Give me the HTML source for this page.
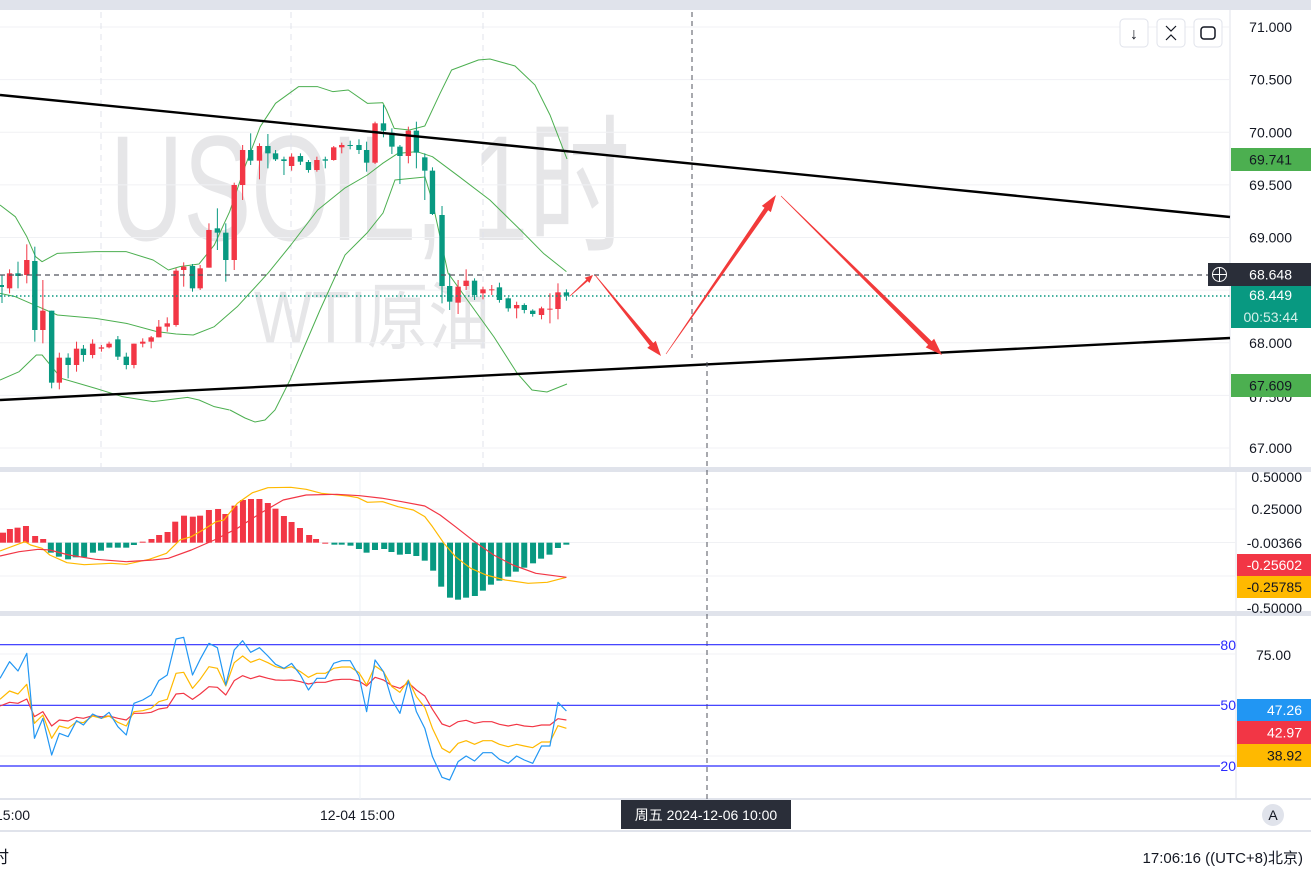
<!DOCTYPE html>
<html><head><meta charset="utf-8">
<style>
html,body{margin:0;padding:0;background:#fff;}
body{width:1311px;height:880px;overflow:hidden;position:relative;font-family:"Liberation Sans","Noto Sans CJK SC",sans-serif;}
svg text{font-family:"Liberation Sans","Noto Sans CJK SC",sans-serif;}
</style></head><body>
<svg id="s" width="1311" height="880" xmlns="http://www.w3.org/2000/svg">
<rect width="1311" height="880" fill="#fff"/>
<rect x="0" y="0" width="1311" height="10" fill="#e0e3eb"/>
<rect x="0" y="467" width="1311" height="5" fill="#e0e3eb"/>
<rect x="0" y="611" width="1311" height="5" fill="#e0e3eb"/>
<line x1="0" y1="799" x2="1311" y2="799" stroke="#e0e3eb" stroke-width="2"/>
<line x1="0" y1="831" x2="1311" y2="831" stroke="#e0e3eb" stroke-width="2"/>
<line x1="1230" y1="10" x2="1230" y2="467" stroke="#e0e3eb"/>
<line x1="1236" y1="472" x2="1236" y2="799" stroke="#e0e3eb"/>
<g id="grid"></g>
<text x="110" y="240" font-size="150" fill="#e6e6e8" textLength="520" lengthAdjust="spacingAndGlyphs">USOIL, 1时</text>
<text x="254" y="343" font-size="74" fill="#e6e6e8" textLength="236" lengthAdjust="spacingAndGlyphs">WTI原油</text>
<g id="main"></g>
</svg>
<script>
const S=document.getElementById('s');
const NS='http://www.w3.org/2000/svg';
function el(t,a,p){const e=document.createElementNS(NS,t);for(const k in a)e.setAttribute(k,a[k]);(p||S).appendChild(e);return e;}
const kx=1/2.613;
function Z(zx,zy,oy){return [zx*kx, oy+zy/3];}
function poly(pts,oy,col,w,extra){el('polyline',Object.assign({points:pts.map(p=>Z(p[0],p[1],oy).join(',')).join(' '),fill:'none',stroke:col,'stroke-width':w||1.2,'stroke-linejoin':'round'},extra||{}));}
const py=p=>27+(71-p)*105.25;
[71,70.5,70,69.5,69,68.5,68,67.5,67].forEach(p=>el('line',{x1:0,x2:1230,y1:py(p),y2:py(p),stroke:'#f0f1f4'}));
[101,291,483].forEach(x=>el('line',{x1:x,x2:x,y1:12,y2:467,stroke:'#e0e3eb','stroke-dasharray':'6,5'}));
[360].forEach(x=>{el('line',{x1:x,x2:x,y1:472,y2:611,stroke:'#eef0f4'});el('line',{x1:x,x2:x,y1:616,y2:799,stroke:'#eef0f4'});});
[509,542.5,576].forEach(y=>el('line',{x1:0,x2:1236,y1:y,y2:y,stroke:'#f0f1f4'}));
[654,756].forEach(y=>el('line',{x1:0,x2:1236,y1:y,y2:y,stroke:'#f0f1f4'}));
function rpoly(pts,col,w,extra){el('polyline',Object.assign({points:pts.map(p=>p.join(',')).join(' '),fill:'none',stroke:col,'stroke-width':w||1},extra||{}));}
poly([[0,435],[40,470],[70,530],[93,590],[110,605],[150,580],[250,575],[330,575],[400,600],[440,630],[470,620],[520,612],[560,555],[600,455],[640,320],[680,200],[720,130],[780,80],[830,80],[870,95],[910,90],[960,130],[1000,128],[1010,150],[1030,205],[1070,210],[1110,198],[1150,100],[1180,30],[1250,0]],60,'#4caf50',1);
rpoly([[478,60],[490,59],[515,66],[535,85],[550,115],[567,159]],'#4caf50',1);
poly([[0,700],[40,710],[100,740],[150,765],[250,775],[330,790],[410,815],[460,822],[505,825],[560,800],[620,740],[700,640],[760,555],[830,450],[900,385],[960,345],[1000,310],[1040,280],[1090,275],[1130,290],[1200,350],[1280,420],[1360,510],[1420,580],[1480,635]],60,'#4caf50',1);
poly([[0,960],[50,935],[95,885],[110,885],[160,955],[250,985],[320,1010],[400,1025],[490,1012],[520,1020],[560,1040],[600,1050]],60,'#4caf50',1);
rpoly([[230,410],[245,418],[255,422],[265,420],[275,410],[290,380],[320,310],[345,255],[367,233],[383,213],[395,180],[425,177],[432,200],[448,273],[494,337],[517,373],[532,390],[547,392],[567,384]],'#4caf50',1);
const C=[[25,'r',640,685,628,700],[47,'g',640,648,605,685],[70,'r',600,645,553,670],[91,'g',603,810,560,845],[112,'r',752,810,660,850],[135,'g',752,968,752,985],[155,'r',893,968,878,988],[178,'g',893,915,880,955],[200,'r',866,915,845,935],[218,'g',866,885,855,905],[242,'r',851,885,838,895],[265,'r',862,866,855,875],[285,'r',851,862,845,865],[308,'g',838,890,828,900],[330,'g',890,915,878,928],[350,'r',851,915,851,925],[373,'r',845,851,835,862],[395,'r',832,845,828,865],[415,'r',800,832,780,832],[437,'r',790,800,772,815],[460,'r',632,795,625,800],[480,'r',620,630,607,680],[503,'g',618,685,612,695],[523,'r',625,685,615,690],[546,'r',510,623,490,623],[568,'g',505,518,445,570],[590,'g',518,600,490,665],[612,'r',375,600,368,630],[634,'r',270,375,255,420],[655,'g',270,302,220,315],[678,'r',258,302,250,358],[700,'g',258,280,222,325],[720,'g',280,298,270,303],[742,'g',298,303,290,345],[762,'r',290,318,280,332],[785,'g',288,305,280,315],[806,'g',306,330,300,338],[828,'r',300,330,290,335],[850,'g',298,302,290,325],[872,'r',262,300,258,302],[893,'r',255,262,248,280],[915,'g',255,257,242,268],[938,'g',255,270,238,282],[958,'g',270,308,245,335],[980,'r',190,308,185,312],[1002,'g',190,212,135,232],[1024,'g',218,260,205,282],[1045,'g',260,288,255,372],[1067,'r',212,288,200,310],[1088,'g',212,278,185,325],[1110,'g',292,332,280,420],[1130,'g',332,462,322,465],[1155,'g',465,678,438,730],[1175,'g',678,725,640,750],[1197,'r',680,728,660,762],[1218,'r',662,678,628,690],[1240,'g',662,705,655,720],[1262,'r',688,700,680,718],[1285,'r',688,690,675,705],[1305,'g',682,720,668,728],[1328,'g',715,745,712,755],[1350,'r',735,745,725,775],[1370,'g',735,750,730,760],[1392,'g',752,762,748,770],[1415,'r',745,765,740,778],[1437,'r',746,748,700,790],[1458,'r',697,747,670,778],[1480,'g',697,707,688,722]];
C.forEach(c=>{const col=c[1]=='r'?'#f23645':'#089981';const x=c[0]*kx;const t=60+c[2]/3,b=60+c[3]/3;
el('line',{x1:x,x2:x,y1:60+c[4]/3,y2:60+c[5]/3,stroke:col,'stroke-width':1});
el('rect',{x:x-2.7,y:t,width:5.4,height:Math.max(1,b-t),fill:col});});
el('line',{x1:2,x2:2,y1:275,y2:303,stroke:'#089981'});el('rect',{x:0,y:285,width:4,height:2,fill:'#089981'});
el('line',{x1:0,x2:1212,y1:275,y2:275,stroke:'#50535e','stroke-width':1.3,'stroke-dasharray':'5,4'});
el('line',{x1:0,x2:1230,y1:296,y2:296,stroke:'#089981','stroke-width':1.5,'stroke-dasharray':'1.5,2.5'});
el('line',{x1:0,y1:95,x2:1230,y2:217,stroke:'#000','stroke-width':2.4});
el('line',{x1:0,y1:400,x2:1230,y2:338,stroke:'#000','stroke-width':2.4});
el('line',{x1:692,x2:692,y1:12,y2:358,stroke:'#50535e','stroke-dasharray':'5,4'});
el('line',{x1:707,x2:707,y1:362,y2:800,stroke:'#50535e','stroke-dasharray':'5,4'});
function arrow(ax,ay,bx,by,w0,w1,hw,hl){const dx=bx-ax,dy=by-ay,L=Math.hypot(dx,dy),ux=dx/L,uy=dy/L,nx=-uy,ny=ux;
const hx=bx-ux*hl,hy=by-uy*hl;
const P=[[ax+nx*w0/2,ay+ny*w0/2],[hx+nx*w1/2,hy+ny*w1/2],[hx+nx*hw/2,hy+ny*hw/2],[bx,by],[hx-nx*hw/2,hy-ny*hw/2],[hx-nx*w1/2,hy-ny*w1/2],[ax-nx*w0/2,ay-ny*w0/2]];
el('polygon',{points:P.map(p=>p.join(',')).join(' '),fill:'#f23a3a'});}
arrow(570,296,593,275,0.6,2,7,8);
arrow(595,275,661,356,0.6,4.5,11,15);
arrow(666,354,776,195,0.6,4.5,11,17);
arrow(781,196,942,355,0.6,5,12,17);
const MO=470,z0=218;
const H=[[0,188,'r'],[18,177,'r'],[38,173,'r'],[60,168,'r'],[84,198,'r'],[105,207,'r'],[125,248,'g'],[146,260,'g'],[170,268,'g'],[190,262,'g'],[212,262,'g'],[235,248,'g'],[256,242,'g'],[278,233,'g'],[300,233,'g'],[322,233,'g'],[342,225,'g'],[365,215,'r'],[388,207,'r'],[408,195,'r'],[430,186,'r'],[450,155,'r'],[473,137,'r'],[496,140,'r'],[515,137,'r'],[538,120,'r'],[562,117,'r'],[581,132,'r'],[605,107,'r'],[627,90,'r'],[648,87,'r'],[670,87,'r'],[692,99,'r'],[712,116,'r'],[734,138,'r'],[754,156,'r'],[776,174,'r'],[800,195,'r'],[818,207,'r'],[842,221,'r'],[866,224,'g'],[885,224,'g'],[908,227,'g'],[930,237,'g'],[950,248,'g'],[972,240,'g'],[996,237,'g'],[1015,246,'g'],[1037,254,'g'],[1058,252,'g'],[1080,258,'g'],[1102,272,'g'],[1124,302,'g'],[1145,350,'g'],[1168,383,'g'],[1189,389,'g'],[1210,383,'g'],[1233,378,'g'],[1254,362,'g'],[1275,344,'g'],[1297,332,'g'],[1320,320,'g'],[1340,305,'g'],[1362,293,'g'],[1385,280,'g'],[1406,266,'g'],[1428,254,'g'],[1450,234,'g'],[1472,224,'g']];
H.forEach(h=>{const a=MO+Math.min(h[1],z0)/3,b=MO+Math.max(h[1],z0)/3;
el('rect',{x:h[0]*kx,y:a,width:6,height:Math.max(0.8,b-a),fill:h[2]=='r'?'#f23645':'#089981'});});
poly([[0,243],[65,215],[80,225],[110,235],[130,255],[175,278],[220,284],[290,280],[330,283],[390,268],[435,250],[470,210],[500,200],[530,180],[565,155],[585,150],[620,100],[660,68],[700,53],[760,52],[800,58],[840,70],[910,78],[935,83],[960,97],[1000,95],[1040,110],[1080,120],[1110,140],[1130,170],[1160,220],[1190,260],[1230,295],[1270,315],[1320,330],[1380,340],[1430,337],[1480,322]],MO,'#ffb900',1.2);
poly([[0,258],[50,245],[100,238],[130,240],[180,255],[250,268],[330,275],[400,270],[440,265],[500,240],[560,210],[620,175],[680,130],[740,90],[800,75],[880,73],[940,77],[1000,85],[1050,95],[1110,108],[1150,135],[1190,170],[1240,215],[1290,255],[1340,285],[1400,310],[1480,322]],MO,'#f23645',1.2);
const RO=620;
[644.7,705.3,766].forEach(y=>el('line',{x1:0,x2:1220,y1:y,y2:y,stroke:'#2b2bff','stroke-width':1.2}));
const xs=[0,25,47,70,90,112,135,155,178,200,218,242,265,285,308,330,350,373,395,415,437,460,480,503,523,546,568,590,612,634,655,678,700,720,742,762,785,806,828,850,872,893,915,938,958,980,1002,1024,1045,1067,1088,1110,1130,1155,1175,1197,1218,1240,1262,1285,1305,1328,1350,1370,1392,1415,1437,1458,1480];
const bl=[175,125,153,100,355,295,405,340,350,302,315,282,295,277,320,345,250,240,225,182,165,57,52,165,118,70,83,195,90,62,97,83,108,133,145,130,165,210,175,175,130,122,122,168,275,120,155,240,280,183,275,325,410,472,480,425,408,423,398,398,418,430,408,420,430,378,378,247,273];
const yl=[238,213,222,193,310,285,355,318,325,305,308,288,295,288,307,318,275,272,265,245,238,160,157,205,178,140,145,198,128,108,127,117,128,140,146,140,155,172,160,160,145,141,141,158,195,138,155,200,217,180,230,262,325,385,398,370,362,373,362,362,373,380,373,378,383,366,366,317,325];
const rd=[258,247,250,237,290,275,318,300,303,292,295,287,290,288,295,300,280,280,277,267,263,222,220,238,222,200,202,225,182,167,176,168,175,180,181,180,185,192,187,187,180,178,178,183,198,172,180,197,205,188,210,228,268,312,320,305,301,310,305,305,313,318,313,318,320,315,315,296,300];
poly(xs.map((x,i)=>[x,rd[i]]),RO,'#f23645',1.2);
poly(xs.map((x,i)=>[x,yl[i]]),RO,'#ffb900',1.2);
poly(xs.map((x,i)=>[x,bl[i]]),RO,'#2196f3',1.2);
function T(x,y,s,o){return el('text',Object.assign({x:x,y:y,'font-size':14,fill:'#131722'},o||{}),S).textContent=s;}
[[71,'71.000'],[70.5,'70.500'],[70,'70.000'],[69.5,'69.500'],[69,'69.000'],[68,'68.000'],[67,'67.000']].forEach(a=>T(1292,py(a[0])+5,a[1],{'text-anchor':'end'}));
el('text',{x:1292,y:402,'font-size':14,fill:'#131722','text-anchor':'end'}).textContent='67.500';
function badge(y,h,bg,txt,col){el('rect',{x:1231,y:y,width:80,height:h,fill:bg});el('text',{x:1292,y:y+h/2+5,'font-size':14,fill:col,'text-anchor':'end'}).textContent=txt;}
badge(148,23,'#4caf50','69.741','#131722');
badge(374,23,'#4caf50','67.609','#131722');
badge(263,23,'#2a2e39','68.648','#fff');
el('rect',{x:1208,y:263,width:23,height:23,fill:'#2a2e39'});
el('circle',{cx:1219.5,cy:274.5,r:7,fill:'none',stroke:'#fff','stroke-width':1});
el('line',{x1:1212.5,x2:1226.5,y1:274.5,y2:274.5,stroke:'#fff'});el('line',{x1:1219.5,x2:1219.5,y1:267.5,y2:281.5,stroke:'#fff'});
badge(286,42,'#089981','','#fff');
el('text',{x:1292,y:300,'font-size':14,fill:'#fff','text-anchor':'end'}).textContent='68.449';
el('text',{x:1298,y:322,'font-size':14,fill:'#d6f0ea','text-anchor':'end'}).textContent='00:53:44';
[[477,'0.50000'],[509,'0.25000'],[543,'-0.00366'],[608,'-0.50000']].forEach(a=>el('text',{x:1302,y:a[0]+5,'font-size':14,fill:'#131722','text-anchor':'end'}).textContent=a[1]);
function b2(y,h,bg,txt,col){el('rect',{x:1237,y:y,width:74,height:h,fill:bg});el('text',{x:1302,y:y+h/2+5,'font-size':14,fill:col,'text-anchor':'end'}).textContent=txt;}
b2(554,22,'#f23645','-0.25602','#fff');
b2(576,22,'#ffb900','-0.25785','#131722');
el('text',{x:1291,y:660,'font-size':14,fill:'#131722','text-anchor':'end'}).textContent='75.00';
b2(699,22,'#2196f3','47.26','#fff');
b2(721,23,'#f23645','42.97','#fff');
b2(744,23,'#ffb900','38.92','#131722');
[[645,'80'],[705,'50'],[766,'20']].forEach(a=>el('text',{x:1236,y:a[0]+5,'font-size':14,fill:'#2b2bff','text-anchor':'end'}).textContent=a[1]);
el('text',{x:-5,y:820,'font-size':14,fill:'#131722'}).textContent='15:00';
el('text',{x:320,y:820,'font-size':14,fill:'#131722'}).textContent='12-04 15:00';
el('rect',{x:621,y:800,width:170,height:29,fill:'#2a2e39'});
el('text',{x:706,y:820,'font-size':14,fill:'#fff','text-anchor':'middle'}).textContent='周五 2024-12-06  10:00';
el('circle',{cx:1273,cy:815,r:11,fill:'#e0e3eb'});
el('text',{x:1273,y:820,'font-size':14,fill:'#131722','text-anchor':'middle'}).textContent='A';
el('text',{x:-8,y:863,'font-size':17,fill:'#131722'}).textContent='时';
el('text',{x:1303,y:863,'font-size':15,fill:'#131722','text-anchor':'end'}).textContent='17:06:16 ((UTC+8)北京)';
[1120,1157,1194].forEach(x=>el('rect',{x:x,y:19,width:28,height:28,rx:4,fill:'#fff',stroke:'#e0e3eb'}));
el('text',{x:1134,y:39,'font-size':16,fill:'#131722','text-anchor':'middle'}).textContent='↓';
el('path',{d:'M1166,26 l5,5 l5,-5 M1166,40 l5,-5 l5,5',fill:'none',stroke:'#131722','stroke-width':1.2});
el('rect',{x:1201,y:27,width:14,height:12,rx:3,fill:'none',stroke:'#131722','stroke-width':1.5});
</script>
</body></html>
